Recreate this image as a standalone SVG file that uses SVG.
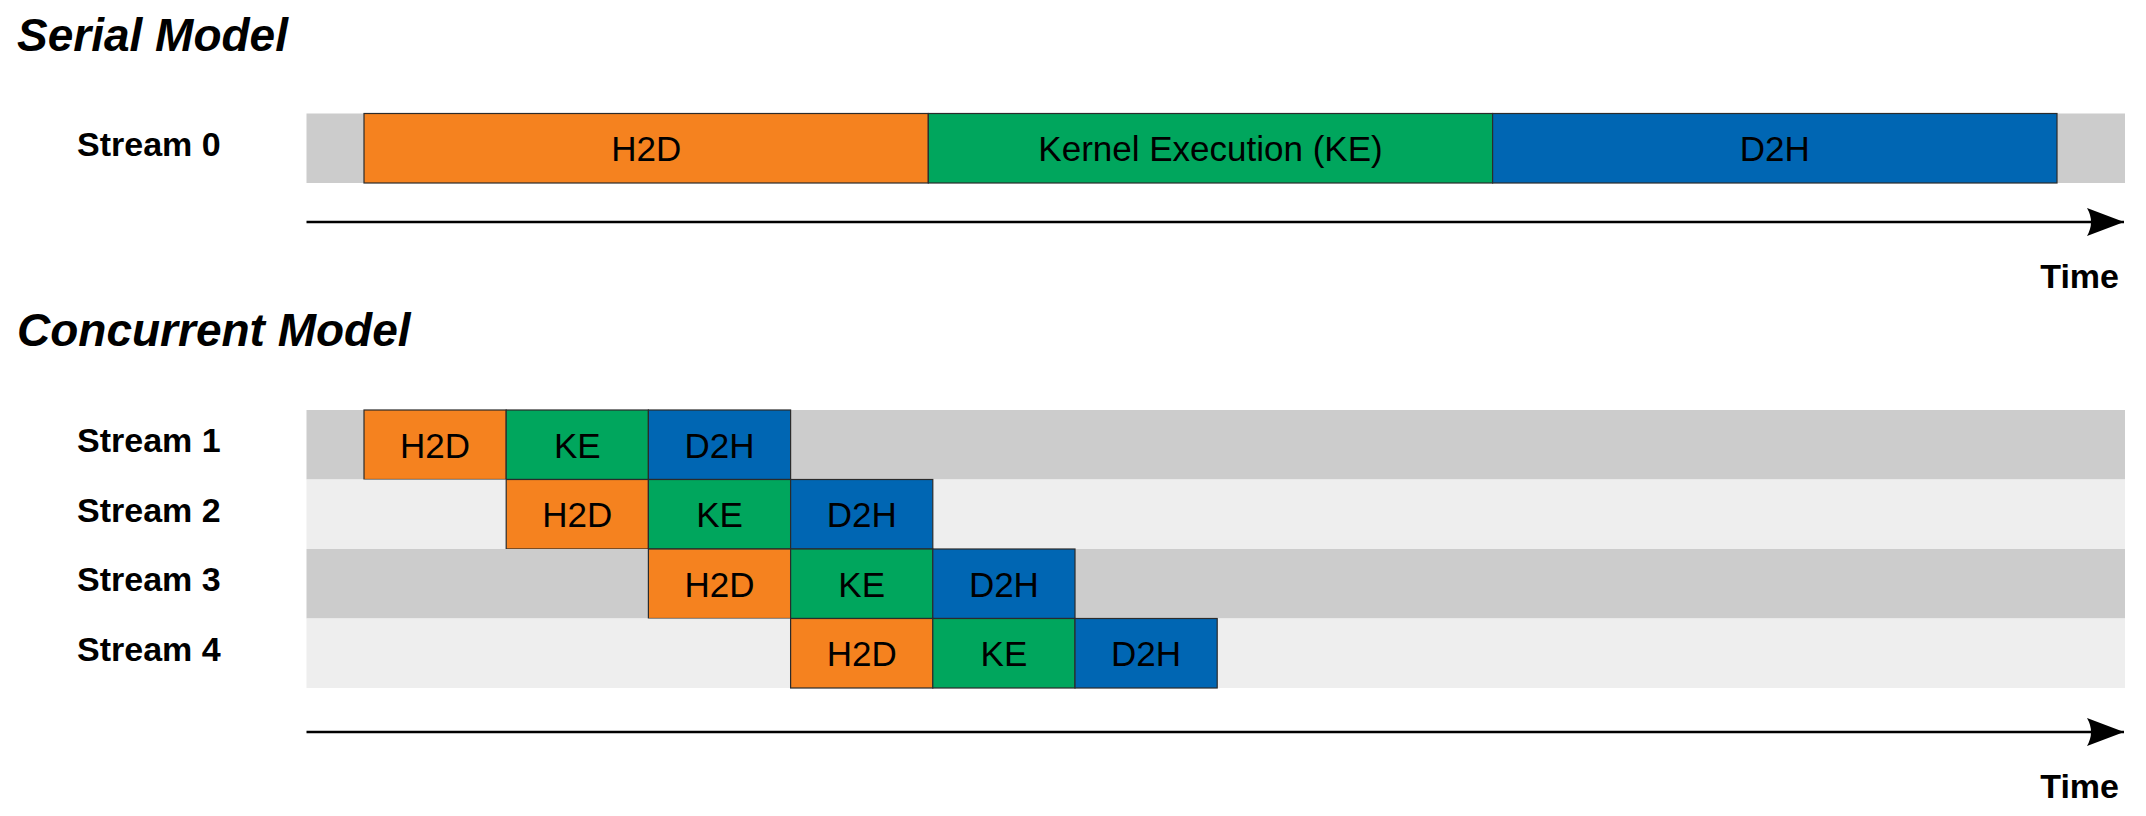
<svg xmlns="http://www.w3.org/2000/svg" width="2146" height="816" viewBox="0 0 2146 816">
<style>
.title{font-family:"Liberation Sans",Arial,sans-serif;font-weight:bold;font-style:italic;font-size:46px;fill:#000}
.lbl{font-family:"Liberation Sans",Arial,sans-serif;font-weight:bold;font-size:34px;fill:#000}
.blk{font-family:"Liberation Sans",Arial,sans-serif;font-size:35px;fill:#000;text-anchor:middle}
.dark{fill:#cccccc}
.light{fill:#eeeeee}
.h2d{fill:#f5821f;stroke:#2b2b2b;stroke-width:1.2}
.ke{fill:#00a65d;stroke:#2b2b2b;stroke-width:1.2}
.d2h{fill:#0066b3;stroke:#2b2b2b;stroke-width:1.2}
.axis{stroke:#000;stroke-width:2.5;fill:none}
</style>
<defs>
<marker id="arr" markerUnits="userSpaceOnUse" markerWidth="40" markerHeight="30" refX="37" refY="14" orient="auto" viewBox="0 0 40 30">
<path d="M37,14 L0,0 Q8,14 0,28 Z" fill="#000"/>
</marker>
</defs>
<rect width="2146" height="816" fill="#fff"/>
<text class="title" x="17" y="51">Serial Model</text>
<text class="title" x="17" y="346">Concurrent Model</text>

<g id="stream0">
<rect class="dark" x="306.5" y="113.5" width="1818.5" height="69.5"/>
<text class="lbl" x="77" y="155.5">Stream 0</text>
<g id="s0-h2d"><rect class="h2d" x="364" y="113.5" width="564.3" height="69.5"/><text class="blk" x="646.2" y="161">H2D</text></g>
<g id="s0-ke"><rect class="ke" x="928.3" y="113.5" width="564.3" height="69.5"/><text class="blk" x="1210.5" y="161">Kernel Execution (KE)</text></g>
<g id="s0-d2h"><rect class="d2h" x="1492.6" y="113.5" width="564.4" height="69.5"/><text class="blk" x="1774.8" y="161">D2H</text></g>
</g>

<g id="stream1">
<rect class="dark" x="306.5" y="410" width="1818.5" height="69.5"/>
<text class="lbl" x="77" y="452">Stream 1</text>
<g id="s1-h2d"><rect class="h2d" x="364" y="410" width="142.2" height="69.5"/><text class="blk" x="435.1" y="457.5">H2D</text></g>
<g id="s1-ke"><rect class="ke" x="506.2" y="410" width="142.2" height="69.5"/><text class="blk" x="577.3" y="457.5">KE</text></g>
<g id="s1-d2h"><rect class="d2h" x="648.4" y="410" width="142.2" height="69.5"/><text class="blk" x="719.5" y="457.5">D2H</text></g>
</g>

<g id="stream2">
<rect class="light" x="306.5" y="479.5" width="1818.5" height="69.5"/>
<text class="lbl" x="77" y="521.5">Stream 2</text>
<g id="s2-h2d"><rect class="h2d" x="506.2" y="479.5" width="142.2" height="69.5"/><text class="blk" x="577.3" y="527">H2D</text></g>
<g id="s2-ke"><rect class="ke" x="648.4" y="479.5" width="142.2" height="69.5"/><text class="blk" x="719.5" y="527">KE</text></g>
<g id="s2-d2h"><rect class="d2h" x="790.6" y="479.5" width="142.2" height="69.5"/><text class="blk" x="861.7" y="527">D2H</text></g>
</g>

<g id="stream3">
<rect class="dark" x="306.5" y="549" width="1818.5" height="69.5"/>
<text class="lbl" x="77" y="591">Stream 3</text>
<g id="s3-h2d"><rect class="h2d" x="648.4" y="549" width="142.2" height="69.5"/><text class="blk" x="719.5" y="596.5">H2D</text></g>
<g id="s3-ke"><rect class="ke" x="790.6" y="549" width="142.2" height="69.5"/><text class="blk" x="861.7" y="596.5">KE</text></g>
<g id="s3-d2h"><rect class="d2h" x="932.8" y="549" width="142.2" height="69.5"/><text class="blk" x="1003.9" y="596.5">D2H</text></g>
</g>

<g id="stream4">
<rect class="light" x="306.5" y="618.5" width="1818.5" height="69.5"/>
<text class="lbl" x="77" y="660.5">Stream 4</text>
<g id="s4-h2d"><rect class="h2d" x="790.6" y="618.5" width="142.2" height="69.5"/><text class="blk" x="861.7" y="666">H2D</text></g>
<g id="s4-ke"><rect class="ke" x="932.8" y="618.5" width="142.2" height="69.5"/><text class="blk" x="1003.9" y="666">KE</text></g>
<g id="s4-d2h"><rect class="d2h" x="1075" y="618.5" width="142.2" height="69.5"/><text class="blk" x="1146.1" y="666">D2H</text></g>
</g>

<g id="connectors">
<line class="axis" x1="306.5" y1="222" x2="2124" y2="222" marker-end="url(#arr)"/>
<line class="axis" x1="306.5" y1="732" x2="2124" y2="732" marker-end="url(#arr)"/>
</g>
<text class="lbl" x="2119" y="288" text-anchor="end">Time</text>
<text class="lbl" x="2119" y="798" text-anchor="end">Time</text>
</svg>
